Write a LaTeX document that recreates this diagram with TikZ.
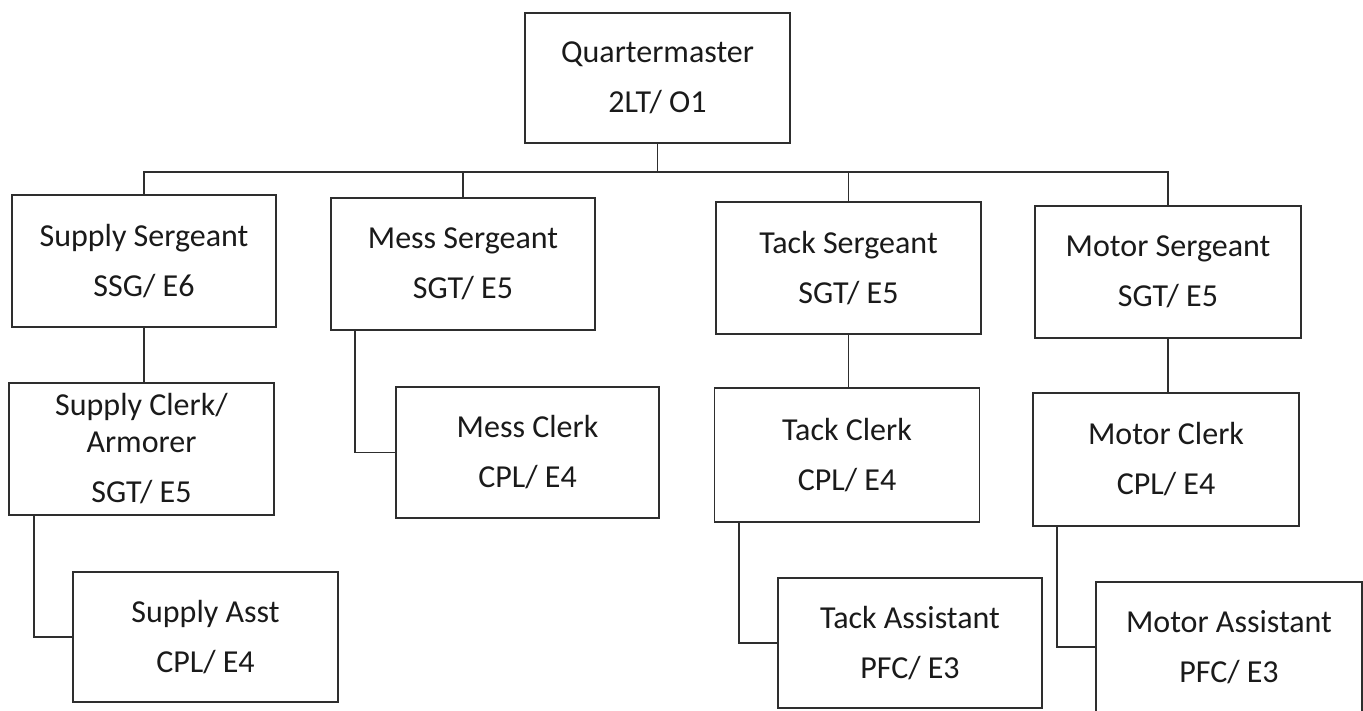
\documentclass[tikz,border=0pt]{standalone}
\usepackage{fontspec}
\setmainfont{Carlito}
\definecolor{ink}{HTML}{1A1A1A}
\definecolor{edge}{HTML}{2E2E2E}
\begin{document}
\begin{tikzpicture}[x=1pt,y=-1pt,
  box/.style={draw=edge, line width=1.6pt, rectangle, inner sep=0pt,
    minimum width=265pt, minimum height=132pt, align=center, text=ink,
    font=\fontsize{32}{37}\selectfont},
  link/.style={draw=edge, line width=1.6pt}]
\useasboundingbox (0,0) rectangle (1363,711);
\fill[white] (0,0) rectangle (1363,711);
% top
\node[box, minimum height=130pt] (qm) at (657.5,78) {Quartermaster\\[13pt]2LT/ O1};
% sergeants
\node[box, minimum width=264pt] (ss) at (144,261) {Supply Sergeant\\[13pt]SSG/ E6};
\node[box, minimum width=264pt] (ms) at (463,264) {Mess Sergeant\\[13pt]SGT/ E5};
\node[box] (ts) at (848.5,268) {Tack Sergeant\\[13pt]SGT/ E5};
\node[box, minimum width=266pt] (mos) at (1168,272) {Motor Sergeant\\[13pt]SGT/ E5};
% clerks
\node[box] (sc) at (141.5,449) {Supply Clerk/\\Armorer\\[13pt]SGT/ E5};
\node[box, minimum width=263pt, minimum height=131pt] (mc) at (527.5,452.5) {Mess Clerk\\[13pt]CPL/ E4};
\node[box, minimum height=134pt] (tc) at (847,455) {Tack Clerk\\[13pt]CPL/ E4};
\node[box, minimum width=266pt, minimum height=133pt] (moc) at (1166,459.5) {Motor Clerk\\[13pt]CPL/ E4};
% assistants
\node[box, minimum height=130pt] (sa) at (205.5,637) {Supply Asst\\[13pt]CPL/ E4};
\node[box, minimum width=264pt, minimum height=130pt] (ta) at (910,643) {Tack Assistant\\[13pt]PFC/ E3};
\node[box, minimum width=266pt, minimum height=130pt] (moa) at (1229,647) {Motor Assistant\\[13pt]PFC/ E3};
% bus
\coordinate (bus) at (657.5,172);
\draw[link] (qm.south) -- (bus);
\draw[link] (ss.north) |- (bus) -| (mos.north);
\draw[link] (ms.north) -- (ms.north |- bus);
\draw[link] (ts.north) -- (ts.north |- bus);
% sergeant to clerk
\draw[link] (ss.south) -- (ss.south |- sc.north);
\draw[link] ([xshift=25pt]ms.south west) |- (mc.west);
\draw[link] (ts.south) -- (ts.south |- tc.north);
\draw[link] (mos.south) -- (mos.south |- moc.north);
% clerk to assistant
\draw[link] ([xshift=26pt]sc.south west) |- (sa.west);
\draw[link] ([xshift=25pt]tc.south west) |- (ta.west);
\draw[link] ([xshift=25pt]moc.south west) |- (moa.west);
\end{tikzpicture}
\end{document}
